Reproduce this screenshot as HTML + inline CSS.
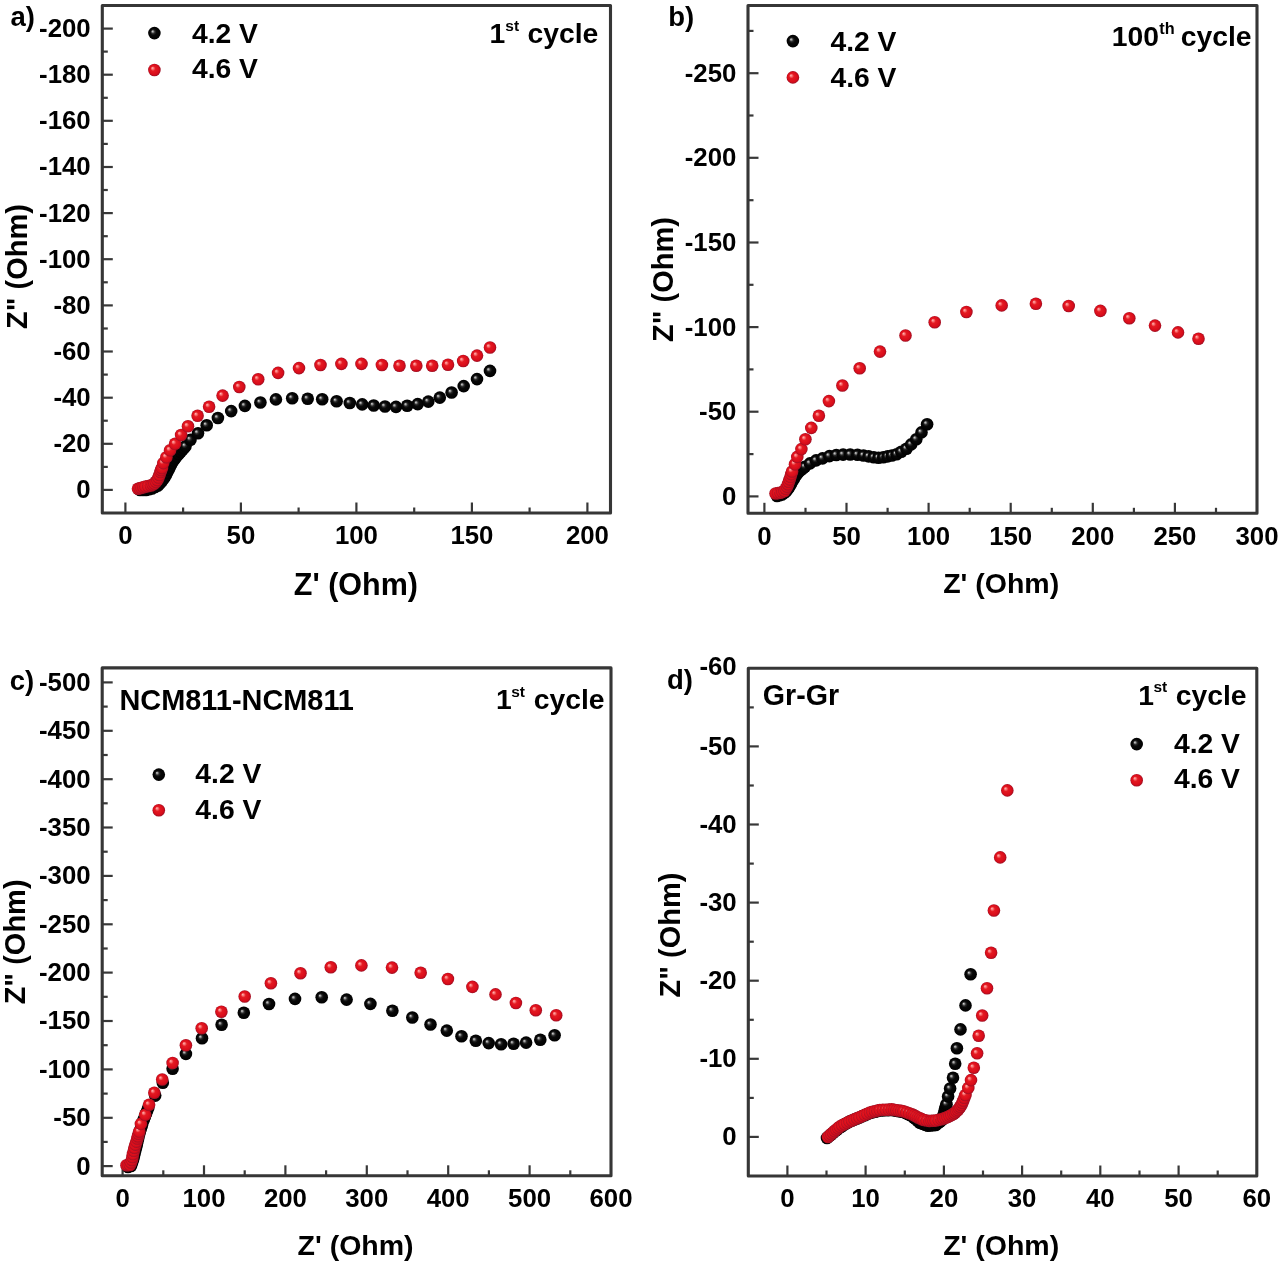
<!DOCTYPE html>
<html><head><meta charset="utf-8"><style>
html,body{margin:0;padding:0;background:#fff;}
svg{display:block;filter:blur(0.45px);}
text{font-family:"Liberation Sans", sans-serif;font-weight:bold;fill:#000;}
</style></head><body>
<svg width="1280" height="1265" viewBox="0 0 1280 1265">
<defs>
<radialGradient id="gr" cx="0.5" cy="0.5" r="0.5" fx="0.33" fy="0.33">
<stop offset="0" stop-color="#ffbcb8"/><stop offset="0.16" stop-color="#fa7a7a"/><stop offset="0.38" stop-color="#e41a22"/><stop offset="0.8" stop-color="#d80c1a"/><stop offset="1" stop-color="#9c1024"/>
</radialGradient>
<radialGradient id="gb" cx="0.5" cy="0.5" r="0.5" fx="0.34" fy="0.35">
<stop offset="0" stop-color="#d4d4d4"/><stop offset="0.1" stop-color="#a8a8a8"/><stop offset="0.3" stop-color="#2a2a2a"/><stop offset="0.5" stop-color="#080808"/><stop offset="1" stop-color="#000"/>
</radialGradient>
</defs>
<rect width="1280" height="1265" fill="#fff"/>
<line x1="125.4" y1="513.0" x2="125.4" y2="502.5" stroke="#383838" stroke-width="2.2"/>
<line x1="240.9" y1="513.0" x2="240.9" y2="502.5" stroke="#383838" stroke-width="2.2"/>
<line x1="356.4" y1="513.0" x2="356.4" y2="502.5" stroke="#383838" stroke-width="2.2"/>
<line x1="471.9" y1="513.0" x2="471.9" y2="502.5" stroke="#383838" stroke-width="2.2"/>
<line x1="587.4" y1="513.0" x2="587.4" y2="502.5" stroke="#383838" stroke-width="2.2"/>
<line x1="183.1" y1="513.0" x2="183.1" y2="507.5" stroke="#383838" stroke-width="2.2"/>
<line x1="298.6" y1="513.0" x2="298.6" y2="507.5" stroke="#383838" stroke-width="2.2"/>
<line x1="414.2" y1="513.0" x2="414.2" y2="507.5" stroke="#383838" stroke-width="2.2"/>
<line x1="529.6" y1="513.0" x2="529.6" y2="507.5" stroke="#383838" stroke-width="2.2"/>
<line x1="102.3" y1="489.9" x2="112.8" y2="489.9" stroke="#383838" stroke-width="2.2"/>
<line x1="102.3" y1="443.8" x2="112.8" y2="443.8" stroke="#383838" stroke-width="2.2"/>
<line x1="102.3" y1="397.7" x2="112.8" y2="397.7" stroke="#383838" stroke-width="2.2"/>
<line x1="102.3" y1="351.5" x2="112.8" y2="351.5" stroke="#383838" stroke-width="2.2"/>
<line x1="102.3" y1="305.4" x2="112.8" y2="305.4" stroke="#383838" stroke-width="2.2"/>
<line x1="102.3" y1="259.2" x2="112.8" y2="259.2" stroke="#383838" stroke-width="2.2"/>
<line x1="102.3" y1="213.1" x2="112.8" y2="213.1" stroke="#383838" stroke-width="2.2"/>
<line x1="102.3" y1="167.0" x2="112.8" y2="167.0" stroke="#383838" stroke-width="2.2"/>
<line x1="102.3" y1="120.8" x2="112.8" y2="120.8" stroke="#383838" stroke-width="2.2"/>
<line x1="102.3" y1="74.7" x2="112.8" y2="74.7" stroke="#383838" stroke-width="2.2"/>
<line x1="102.3" y1="28.6" x2="112.8" y2="28.6" stroke="#383838" stroke-width="2.2"/>
<line x1="102.3" y1="466.9" x2="107.8" y2="466.9" stroke="#383838" stroke-width="2.2"/>
<line x1="102.3" y1="420.7" x2="107.8" y2="420.7" stroke="#383838" stroke-width="2.2"/>
<line x1="102.3" y1="374.6" x2="107.8" y2="374.6" stroke="#383838" stroke-width="2.2"/>
<line x1="102.3" y1="328.5" x2="107.8" y2="328.5" stroke="#383838" stroke-width="2.2"/>
<line x1="102.3" y1="282.3" x2="107.8" y2="282.3" stroke="#383838" stroke-width="2.2"/>
<line x1="102.3" y1="236.2" x2="107.8" y2="236.2" stroke="#383838" stroke-width="2.2"/>
<line x1="102.3" y1="190.0" x2="107.8" y2="190.0" stroke="#383838" stroke-width="2.2"/>
<line x1="102.3" y1="143.9" x2="107.8" y2="143.9" stroke="#383838" stroke-width="2.2"/>
<line x1="102.3" y1="97.8" x2="107.8" y2="97.8" stroke="#383838" stroke-width="2.2"/>
<line x1="102.3" y1="51.6" x2="107.8" y2="51.6" stroke="#383838" stroke-width="2.2"/>
<rect x="102.3" y="5.5" width="508.2" height="507.5" fill="none" stroke="#363636" stroke-width="3.1" stroke-linejoin="round"/>
<text x="125.4" y="544.3" font-size="25.8" text-anchor="middle" >0</text>
<text x="240.9" y="544.3" font-size="25.8" text-anchor="middle" >50</text>
<text x="356.4" y="544.3" font-size="25.8" text-anchor="middle" >100</text>
<text x="471.9" y="544.3" font-size="25.8" text-anchor="middle" >150</text>
<text x="587.4" y="544.3" font-size="25.8" text-anchor="middle" >200</text>
<text x="90.7" y="498.3" font-size="25.8" text-anchor="end" >0</text>
<text x="90.7" y="452.2" font-size="25.8" text-anchor="end" >-20</text>
<text x="90.7" y="406.1" font-size="25.8" text-anchor="end" >-40</text>
<text x="90.7" y="359.9" font-size="25.8" text-anchor="end" >-60</text>
<text x="90.7" y="313.8" font-size="25.8" text-anchor="end" >-80</text>
<text x="90.7" y="267.6" font-size="25.8" text-anchor="end" >-100</text>
<text x="90.7" y="221.5" font-size="25.8" text-anchor="end" >-120</text>
<text x="90.7" y="175.4" font-size="25.8" text-anchor="end" >-140</text>
<text x="90.7" y="129.2" font-size="25.8" text-anchor="end" >-160</text>
<text x="90.7" y="83.1" font-size="25.8" text-anchor="end" >-180</text>
<text x="90.7" y="37.0" font-size="25.8" text-anchor="end" >-200</text>
<line x1="764.4" y1="513.3" x2="764.4" y2="502.8" stroke="#383838" stroke-width="2.2"/>
<line x1="846.5" y1="513.3" x2="846.5" y2="502.8" stroke="#383838" stroke-width="2.2"/>
<line x1="928.6" y1="513.3" x2="928.6" y2="502.8" stroke="#383838" stroke-width="2.2"/>
<line x1="1010.7" y1="513.3" x2="1010.7" y2="502.8" stroke="#383838" stroke-width="2.2"/>
<line x1="1092.8" y1="513.3" x2="1092.8" y2="502.8" stroke="#383838" stroke-width="2.2"/>
<line x1="1174.9" y1="513.3" x2="1174.9" y2="502.8" stroke="#383838" stroke-width="2.2"/>
<line x1="805.5" y1="513.3" x2="805.5" y2="507.8" stroke="#383838" stroke-width="2.2"/>
<line x1="887.6" y1="513.3" x2="887.6" y2="507.8" stroke="#383838" stroke-width="2.2"/>
<line x1="969.7" y1="513.3" x2="969.7" y2="507.8" stroke="#383838" stroke-width="2.2"/>
<line x1="1051.8" y1="513.3" x2="1051.8" y2="507.8" stroke="#383838" stroke-width="2.2"/>
<line x1="1133.9" y1="513.3" x2="1133.9" y2="507.8" stroke="#383838" stroke-width="2.2"/>
<line x1="1216.0" y1="513.3" x2="1216.0" y2="507.8" stroke="#383838" stroke-width="2.2"/>
<line x1="748.0" y1="496.4" x2="758.5" y2="496.4" stroke="#383838" stroke-width="2.2"/>
<line x1="748.0" y1="411.7" x2="758.5" y2="411.7" stroke="#383838" stroke-width="2.2"/>
<line x1="748.0" y1="327.1" x2="758.5" y2="327.1" stroke="#383838" stroke-width="2.2"/>
<line x1="748.0" y1="242.5" x2="758.5" y2="242.5" stroke="#383838" stroke-width="2.2"/>
<line x1="748.0" y1="157.8" x2="758.5" y2="157.8" stroke="#383838" stroke-width="2.2"/>
<line x1="748.0" y1="73.2" x2="758.5" y2="73.2" stroke="#383838" stroke-width="2.2"/>
<line x1="748.0" y1="454.1" x2="753.5" y2="454.1" stroke="#383838" stroke-width="2.2"/>
<line x1="748.0" y1="369.4" x2="753.5" y2="369.4" stroke="#383838" stroke-width="2.2"/>
<line x1="748.0" y1="284.8" x2="753.5" y2="284.8" stroke="#383838" stroke-width="2.2"/>
<line x1="748.0" y1="200.2" x2="753.5" y2="200.2" stroke="#383838" stroke-width="2.2"/>
<line x1="748.0" y1="115.5" x2="753.5" y2="115.5" stroke="#383838" stroke-width="2.2"/>
<line x1="748.0" y1="30.9" x2="753.5" y2="30.9" stroke="#383838" stroke-width="2.2"/>
<rect x="748.0" y="5.5" width="509.0" height="507.8" fill="none" stroke="#363636" stroke-width="3.1" stroke-linejoin="round"/>
<text x="764.4" y="544.6" font-size="25.8" text-anchor="middle" >0</text>
<text x="846.5" y="544.6" font-size="25.8" text-anchor="middle" >50</text>
<text x="928.6" y="544.6" font-size="25.8" text-anchor="middle" >100</text>
<text x="1010.7" y="544.6" font-size="25.8" text-anchor="middle" >150</text>
<text x="1092.8" y="544.6" font-size="25.8" text-anchor="middle" >200</text>
<text x="1174.9" y="544.6" font-size="25.8" text-anchor="middle" >250</text>
<text x="1257.0" y="544.6" font-size="25.8" text-anchor="middle" >300</text>
<text x="736.4" y="504.8" font-size="25.8" text-anchor="end" >0</text>
<text x="736.4" y="420.1" font-size="25.8" text-anchor="end" >-50</text>
<text x="736.4" y="335.5" font-size="25.8" text-anchor="end" >-100</text>
<text x="736.4" y="250.9" font-size="25.8" text-anchor="end" >-150</text>
<text x="736.4" y="166.2" font-size="25.8" text-anchor="end" >-200</text>
<text x="736.4" y="81.6" font-size="25.8" text-anchor="end" >-250</text>
<line x1="122.6" y1="1175.8" x2="122.6" y2="1165.3" stroke="#383838" stroke-width="2.2"/>
<line x1="204.0" y1="1175.8" x2="204.0" y2="1165.3" stroke="#383838" stroke-width="2.2"/>
<line x1="285.4" y1="1175.8" x2="285.4" y2="1165.3" stroke="#383838" stroke-width="2.2"/>
<line x1="366.8" y1="1175.8" x2="366.8" y2="1165.3" stroke="#383838" stroke-width="2.2"/>
<line x1="448.2" y1="1175.8" x2="448.2" y2="1165.3" stroke="#383838" stroke-width="2.2"/>
<line x1="529.6" y1="1175.8" x2="529.6" y2="1165.3" stroke="#383838" stroke-width="2.2"/>
<line x1="163.3" y1="1175.8" x2="163.3" y2="1170.3" stroke="#383838" stroke-width="2.2"/>
<line x1="244.7" y1="1175.8" x2="244.7" y2="1170.3" stroke="#383838" stroke-width="2.2"/>
<line x1="326.1" y1="1175.8" x2="326.1" y2="1170.3" stroke="#383838" stroke-width="2.2"/>
<line x1="407.5" y1="1175.8" x2="407.5" y2="1170.3" stroke="#383838" stroke-width="2.2"/>
<line x1="488.9" y1="1175.8" x2="488.9" y2="1170.3" stroke="#383838" stroke-width="2.2"/>
<line x1="570.3" y1="1175.8" x2="570.3" y2="1170.3" stroke="#383838" stroke-width="2.2"/>
<line x1="102.2" y1="1166.1" x2="112.7" y2="1166.1" stroke="#383838" stroke-width="2.2"/>
<line x1="102.2" y1="1117.8" x2="112.7" y2="1117.8" stroke="#383838" stroke-width="2.2"/>
<line x1="102.2" y1="1069.4" x2="112.7" y2="1069.4" stroke="#383838" stroke-width="2.2"/>
<line x1="102.2" y1="1021.0" x2="112.7" y2="1021.0" stroke="#383838" stroke-width="2.2"/>
<line x1="102.2" y1="972.6" x2="112.7" y2="972.6" stroke="#383838" stroke-width="2.2"/>
<line x1="102.2" y1="924.3" x2="112.7" y2="924.3" stroke="#383838" stroke-width="2.2"/>
<line x1="102.2" y1="875.9" x2="112.7" y2="875.9" stroke="#383838" stroke-width="2.2"/>
<line x1="102.2" y1="827.5" x2="112.7" y2="827.5" stroke="#383838" stroke-width="2.2"/>
<line x1="102.2" y1="779.2" x2="112.7" y2="779.2" stroke="#383838" stroke-width="2.2"/>
<line x1="102.2" y1="730.8" x2="112.7" y2="730.8" stroke="#383838" stroke-width="2.2"/>
<line x1="102.2" y1="682.4" x2="112.7" y2="682.4" stroke="#383838" stroke-width="2.2"/>
<line x1="102.2" y1="1141.9" x2="107.7" y2="1141.9" stroke="#383838" stroke-width="2.2"/>
<line x1="102.2" y1="1093.6" x2="107.7" y2="1093.6" stroke="#383838" stroke-width="2.2"/>
<line x1="102.2" y1="1045.2" x2="107.7" y2="1045.2" stroke="#383838" stroke-width="2.2"/>
<line x1="102.2" y1="996.8" x2="107.7" y2="996.8" stroke="#383838" stroke-width="2.2"/>
<line x1="102.2" y1="948.5" x2="107.7" y2="948.5" stroke="#383838" stroke-width="2.2"/>
<line x1="102.2" y1="900.1" x2="107.7" y2="900.1" stroke="#383838" stroke-width="2.2"/>
<line x1="102.2" y1="851.7" x2="107.7" y2="851.7" stroke="#383838" stroke-width="2.2"/>
<line x1="102.2" y1="803.3" x2="107.7" y2="803.3" stroke="#383838" stroke-width="2.2"/>
<line x1="102.2" y1="755.0" x2="107.7" y2="755.0" stroke="#383838" stroke-width="2.2"/>
<line x1="102.2" y1="706.6" x2="107.7" y2="706.6" stroke="#383838" stroke-width="2.2"/>
<rect x="102.2" y="667.9" width="508.8" height="507.9" fill="none" stroke="#363636" stroke-width="3.1" stroke-linejoin="round"/>
<text x="122.6" y="1207.1" font-size="25.8" text-anchor="middle" >0</text>
<text x="204.0" y="1207.1" font-size="25.8" text-anchor="middle" >100</text>
<text x="285.4" y="1207.1" font-size="25.8" text-anchor="middle" >200</text>
<text x="366.8" y="1207.1" font-size="25.8" text-anchor="middle" >300</text>
<text x="448.2" y="1207.1" font-size="25.8" text-anchor="middle" >400</text>
<text x="529.6" y="1207.1" font-size="25.8" text-anchor="middle" >500</text>
<text x="611.0" y="1207.1" font-size="25.8" text-anchor="middle" >600</text>
<text x="90.6" y="1174.5" font-size="25.8" text-anchor="end" >0</text>
<text x="90.6" y="1126.2" font-size="25.8" text-anchor="end" >-50</text>
<text x="90.6" y="1077.8" font-size="25.8" text-anchor="end" >-100</text>
<text x="90.6" y="1029.4" font-size="25.8" text-anchor="end" >-150</text>
<text x="90.6" y="981.0" font-size="25.8" text-anchor="end" >-200</text>
<text x="90.6" y="932.7" font-size="25.8" text-anchor="end" >-250</text>
<text x="90.6" y="884.3" font-size="25.8" text-anchor="end" >-300</text>
<text x="90.6" y="835.9" font-size="25.8" text-anchor="end" >-350</text>
<text x="90.6" y="787.6" font-size="25.8" text-anchor="end" >-400</text>
<text x="90.6" y="739.2" font-size="25.8" text-anchor="end" >-450</text>
<text x="90.6" y="690.8" font-size="25.8" text-anchor="end" >-500</text>
<line x1="787.4" y1="1176.0" x2="787.4" y2="1165.5" stroke="#383838" stroke-width="2.2"/>
<line x1="865.6" y1="1176.0" x2="865.6" y2="1165.5" stroke="#383838" stroke-width="2.2"/>
<line x1="943.9" y1="1176.0" x2="943.9" y2="1165.5" stroke="#383838" stroke-width="2.2"/>
<line x1="1022.1" y1="1176.0" x2="1022.1" y2="1165.5" stroke="#383838" stroke-width="2.2"/>
<line x1="1100.3" y1="1176.0" x2="1100.3" y2="1165.5" stroke="#383838" stroke-width="2.2"/>
<line x1="1178.6" y1="1176.0" x2="1178.6" y2="1165.5" stroke="#383838" stroke-width="2.2"/>
<line x1="826.5" y1="1176.0" x2="826.5" y2="1170.5" stroke="#383838" stroke-width="2.2"/>
<line x1="904.8" y1="1176.0" x2="904.8" y2="1170.5" stroke="#383838" stroke-width="2.2"/>
<line x1="983.0" y1="1176.0" x2="983.0" y2="1170.5" stroke="#383838" stroke-width="2.2"/>
<line x1="1061.2" y1="1176.0" x2="1061.2" y2="1170.5" stroke="#383838" stroke-width="2.2"/>
<line x1="1139.5" y1="1176.0" x2="1139.5" y2="1170.5" stroke="#383838" stroke-width="2.2"/>
<line x1="1217.7" y1="1176.0" x2="1217.7" y2="1170.5" stroke="#383838" stroke-width="2.2"/>
<line x1="748.3" y1="1136.9" x2="758.8" y2="1136.9" stroke="#383838" stroke-width="2.2"/>
<line x1="748.3" y1="1058.8" x2="758.8" y2="1058.8" stroke="#383838" stroke-width="2.2"/>
<line x1="748.3" y1="980.7" x2="758.8" y2="980.7" stroke="#383838" stroke-width="2.2"/>
<line x1="748.3" y1="902.6" x2="758.8" y2="902.6" stroke="#383838" stroke-width="2.2"/>
<line x1="748.3" y1="824.5" x2="758.8" y2="824.5" stroke="#383838" stroke-width="2.2"/>
<line x1="748.3" y1="746.4" x2="758.8" y2="746.4" stroke="#383838" stroke-width="2.2"/>
<line x1="748.3" y1="1097.9" x2="753.8" y2="1097.9" stroke="#383838" stroke-width="2.2"/>
<line x1="748.3" y1="1019.8" x2="753.8" y2="1019.8" stroke="#383838" stroke-width="2.2"/>
<line x1="748.3" y1="941.7" x2="753.8" y2="941.7" stroke="#383838" stroke-width="2.2"/>
<line x1="748.3" y1="863.6" x2="753.8" y2="863.6" stroke="#383838" stroke-width="2.2"/>
<line x1="748.3" y1="785.5" x2="753.8" y2="785.5" stroke="#383838" stroke-width="2.2"/>
<line x1="748.3" y1="707.4" x2="753.8" y2="707.4" stroke="#383838" stroke-width="2.2"/>
<rect x="748.3" y="668.3" width="508.5" height="507.7" fill="none" stroke="#363636" stroke-width="3.1" stroke-linejoin="round"/>
<text x="787.4" y="1207.3" font-size="25.8" text-anchor="middle" >0</text>
<text x="865.6" y="1207.3" font-size="25.8" text-anchor="middle" >10</text>
<text x="943.9" y="1207.3" font-size="25.8" text-anchor="middle" >20</text>
<text x="1022.1" y="1207.3" font-size="25.8" text-anchor="middle" >30</text>
<text x="1100.3" y="1207.3" font-size="25.8" text-anchor="middle" >40</text>
<text x="1178.6" y="1207.3" font-size="25.8" text-anchor="middle" >50</text>
<text x="1256.8" y="1207.3" font-size="25.8" text-anchor="middle" >60</text>
<text x="736.7" y="1145.3" font-size="25.8" text-anchor="end" >0</text>
<text x="736.7" y="1067.2" font-size="25.8" text-anchor="end" >-10</text>
<text x="736.7" y="989.1" font-size="25.8" text-anchor="end" >-20</text>
<text x="736.7" y="911.0" font-size="25.8" text-anchor="end" >-30</text>
<text x="736.7" y="832.9" font-size="25.8" text-anchor="end" >-40</text>
<text x="736.7" y="754.8" font-size="25.8" text-anchor="end" >-50</text>
<text x="736.7" y="675.4" font-size="25.8" text-anchor="end" >-60</text>
<text x="355.9" y="595.0" font-size="30.5" text-anchor="middle" >Z' (Ohm)</text>
<text x="1001.2" y="592.5" font-size="28.5" text-anchor="middle" >Z' (Ohm)</text>
<text x="355.6" y="1255.0" font-size="28.5" text-anchor="middle" >Z' (Ohm)</text>
<text x="1001.2" y="1255.0" font-size="28.5" text-anchor="middle" >Z' (Ohm)</text>
<text x="0" y="0" font-size="29" text-anchor="middle" transform="translate(26.5,266.6) rotate(-90)">Z" (Ohm)</text>
<text x="0" y="0" font-size="29" text-anchor="middle" transform="translate(673.3,279.5) rotate(-90)">Z" (Ohm)</text>
<text x="0" y="0" font-size="29" text-anchor="middle" transform="translate(25.3,941.9) rotate(-90)">Z" (Ohm)</text>
<text x="0" y="0" font-size="29" text-anchor="middle" transform="translate(679.6,935.1) rotate(-90)">Z" (Ohm)</text>
<text x="10.5" y="25.8" font-size="27.5" text-anchor="start" >a)</text>
<text x="668.3" y="26.3" font-size="27.5" text-anchor="start" >b)</text>
<text x="9.8" y="690.0" font-size="27.5" text-anchor="start" >c)</text>
<text x="667.0" y="689.0" font-size="27.5" text-anchor="start" >d)</text>
<circle cx="154.4" cy="33.1" r="6.3" fill="url(#gb)"/>
<circle cx="154.4" cy="70.0" r="6.3" fill="url(#gr)"/>
<text x="191.9" y="42.5" font-size="28.3" text-anchor="start" >4.2 V</text>
<text x="191.9" y="78.0" font-size="28.3" text-anchor="start" >4.6 V</text>
<circle cx="792.9" cy="41.1" r="6.3" fill="url(#gb)"/>
<circle cx="792.9" cy="77.4" r="6.3" fill="url(#gr)"/>
<text x="830.4" y="51.1" font-size="28.3" text-anchor="start" >4.2 V</text>
<text x="830.4" y="86.8" font-size="28.3" text-anchor="start" >4.6 V</text>
<circle cx="158.8" cy="774.6" r="6.3" fill="url(#gb)"/>
<circle cx="158.8" cy="810.2" r="6.3" fill="url(#gr)"/>
<text x="195.3" y="782.7" font-size="28.3" text-anchor="start" >4.2 V</text>
<text x="195.3" y="819.3" font-size="28.3" text-anchor="start" >4.6 V</text>
<circle cx="1136.7" cy="744.1" r="6.3" fill="url(#gb)"/>
<circle cx="1136.7" cy="780.2" r="6.3" fill="url(#gr)"/>
<text x="1173.9" y="752.6" font-size="28.3" text-anchor="start" >4.2 V</text>
<text x="1173.9" y="788.4" font-size="28.3" text-anchor="start" >4.6 V</text>
<text x="489.5" y="43.4" font-size="28.3" text-anchor="start" >1</text>
<text x="505.3" y="30.8" font-size="15.5" text-anchor="start" >st</text>
<text x="527.5" y="43.4" font-size="28.3" text-anchor="start" >cycle</text>
<text x="1111.7" y="46.4" font-size="28.3" text-anchor="start" >100</text>
<text x="1159.3" y="33.8" font-size="16.3" text-anchor="start" >th</text>
<text x="1180.7" y="46.4" font-size="28.3" text-anchor="start" >cycle</text>
<text x="496.0" y="709.4" font-size="28.3" text-anchor="start" >1</text>
<text x="511.2" y="697.0" font-size="15.5" text-anchor="start" >st</text>
<text x="533.7" y="709.4" font-size="28.3" text-anchor="start" >cycle</text>
<text x="1138.3" y="704.6" font-size="28.3" text-anchor="start" >1</text>
<text x="1153.5" y="691.9" font-size="15.5" text-anchor="start" >st</text>
<text x="1175.7" y="704.6" font-size="28.3" text-anchor="start" >cycle</text>
<text x="119.5" y="709.6" font-size="28.9" text-anchor="start" >NCM811-NCM811</text>
<text x="762.8" y="704.8" font-size="28.6" text-anchor="start" >Gr-Gr</text>
<circle cx="140.0" cy="490.0" r="6.3" fill="url(#gb)"/>
<circle cx="143.0" cy="490.0" r="6.3" fill="url(#gb)"/>
<circle cx="146.0" cy="490.0" r="6.3" fill="url(#gb)"/>
<circle cx="149.0" cy="489.2" r="6.3" fill="url(#gb)"/>
<circle cx="152.0" cy="488.5" r="6.3" fill="url(#gb)"/>
<circle cx="155.0" cy="487.0" r="6.3" fill="url(#gb)"/>
<circle cx="158.0" cy="485.5" r="6.3" fill="url(#gb)"/>
<circle cx="160.0" cy="483.2" r="6.3" fill="url(#gb)"/>
<circle cx="162.0" cy="481.0" r="6.3" fill="url(#gb)"/>
<circle cx="163.8" cy="478.5" r="6.3" fill="url(#gb)"/>
<circle cx="165.5" cy="476.0" r="6.3" fill="url(#gb)"/>
<circle cx="167.0" cy="473.0" r="6.3" fill="url(#gb)"/>
<circle cx="168.5" cy="470.0" r="6.3" fill="url(#gb)"/>
<circle cx="169.5" cy="467.8" r="6.3" fill="url(#gb)"/>
<circle cx="170.5" cy="465.5" r="6.3" fill="url(#gb)"/>
<circle cx="172.0" cy="463.0" r="6.3" fill="url(#gb)"/>
<circle cx="173.5" cy="460.5" r="6.3" fill="url(#gb)"/>
<circle cx="175.0" cy="458.5" r="6.3" fill="url(#gb)"/>
<circle cx="176.5" cy="456.5" r="6.3" fill="url(#gb)"/>
<circle cx="178.5" cy="454.2" r="6.3" fill="url(#gb)"/>
<circle cx="180.5" cy="452.0" r="6.3" fill="url(#gb)"/>
<circle cx="182.2" cy="450.1" r="6.3" fill="url(#gb)"/>
<circle cx="183.8" cy="448.2" r="6.3" fill="url(#gb)"/>
<circle cx="185.5" cy="446.3" r="6.3" fill="url(#gb)"/>
<circle cx="190.5" cy="439.7" r="6.3" fill="url(#gb)"/>
<circle cx="198.0" cy="433.2" r="6.3" fill="url(#gb)"/>
<circle cx="206.7" cy="425.3" r="6.3" fill="url(#gb)"/>
<circle cx="217.9" cy="418.0" r="6.3" fill="url(#gb)"/>
<circle cx="231.2" cy="411.1" r="6.3" fill="url(#gb)"/>
<circle cx="244.9" cy="405.9" r="6.3" fill="url(#gb)"/>
<circle cx="260.4" cy="402.5" r="6.3" fill="url(#gb)"/>
<circle cx="275.9" cy="399.4" r="6.3" fill="url(#gb)"/>
<circle cx="292.2" cy="398.2" r="6.3" fill="url(#gb)"/>
<circle cx="307.7" cy="398.7" r="6.3" fill="url(#gb)"/>
<circle cx="322.2" cy="399.3" r="6.3" fill="url(#gb)"/>
<circle cx="336.6" cy="401.3" r="6.3" fill="url(#gb)"/>
<circle cx="349.8" cy="403.0" r="6.3" fill="url(#gb)"/>
<circle cx="362.2" cy="404.4" r="6.3" fill="url(#gb)"/>
<circle cx="373.7" cy="405.5" r="6.3" fill="url(#gb)"/>
<circle cx="385.0" cy="406.5" r="6.3" fill="url(#gb)"/>
<circle cx="396.0" cy="406.9" r="6.3" fill="url(#gb)"/>
<circle cx="407.2" cy="405.8" r="6.3" fill="url(#gb)"/>
<circle cx="417.7" cy="404.1" r="6.3" fill="url(#gb)"/>
<circle cx="428.3" cy="401.6" r="6.3" fill="url(#gb)"/>
<circle cx="439.8" cy="397.6" r="6.3" fill="url(#gb)"/>
<circle cx="451.6" cy="392.5" r="6.3" fill="url(#gb)"/>
<circle cx="463.7" cy="386.1" r="6.3" fill="url(#gb)"/>
<circle cx="477.0" cy="379.1" r="6.3" fill="url(#gb)"/>
<circle cx="490.0" cy="370.9" r="6.3" fill="url(#gb)"/>
<circle cx="138.0" cy="488.8" r="6.3" fill="url(#gr)"/>
<circle cx="139.8" cy="488.3" r="6.3" fill="url(#gr)"/>
<circle cx="141.5" cy="487.8" r="6.3" fill="url(#gr)"/>
<circle cx="143.5" cy="487.2" r="6.3" fill="url(#gr)"/>
<circle cx="145.5" cy="486.6" r="6.3" fill="url(#gr)"/>
<circle cx="148.2" cy="486.1" r="6.3" fill="url(#gr)"/>
<circle cx="151.0" cy="485.5" r="6.3" fill="url(#gr)"/>
<circle cx="152.8" cy="484.5" r="6.3" fill="url(#gr)"/>
<circle cx="154.5" cy="483.5" r="6.3" fill="url(#gr)"/>
<circle cx="156.0" cy="481.8" r="6.3" fill="url(#gr)"/>
<circle cx="157.5" cy="480.0" r="6.3" fill="url(#gr)"/>
<circle cx="158.5" cy="477.5" r="6.3" fill="url(#gr)"/>
<circle cx="159.5" cy="475.0" r="6.3" fill="url(#gr)"/>
<circle cx="160.5" cy="472.0" r="6.3" fill="url(#gr)"/>
<circle cx="161.2" cy="470.0" r="6.3" fill="url(#gr)"/>
<circle cx="162.0" cy="468.0" r="6.3" fill="url(#gr)"/>
<circle cx="163.3" cy="463.1" r="6.3" fill="url(#gr)"/>
<circle cx="166.4" cy="457.2" r="6.3" fill="url(#gr)"/>
<circle cx="170.1" cy="450.3" r="6.3" fill="url(#gr)"/>
<circle cx="175.1" cy="443.8" r="6.3" fill="url(#gr)"/>
<circle cx="181.1" cy="435.0" r="6.3" fill="url(#gr)"/>
<circle cx="188.0" cy="426.3" r="6.3" fill="url(#gr)"/>
<circle cx="197.6" cy="415.8" r="6.3" fill="url(#gr)"/>
<circle cx="209.1" cy="406.7" r="6.3" fill="url(#gr)"/>
<circle cx="222.6" cy="395.6" r="6.3" fill="url(#gr)"/>
<circle cx="239.3" cy="387.0" r="6.3" fill="url(#gr)"/>
<circle cx="258.2" cy="379.3" r="6.3" fill="url(#gr)"/>
<circle cx="278.1" cy="372.9" r="6.3" fill="url(#gr)"/>
<circle cx="299.0" cy="368.1" r="6.3" fill="url(#gr)"/>
<circle cx="320.5" cy="365.0" r="6.3" fill="url(#gr)"/>
<circle cx="341.4" cy="363.9" r="6.3" fill="url(#gr)"/>
<circle cx="361.5" cy="363.9" r="6.3" fill="url(#gr)"/>
<circle cx="381.9" cy="365.0" r="6.3" fill="url(#gr)"/>
<circle cx="399.5" cy="365.7" r="6.3" fill="url(#gr)"/>
<circle cx="416.3" cy="365.7" r="6.3" fill="url(#gr)"/>
<circle cx="432.2" cy="365.7" r="6.3" fill="url(#gr)"/>
<circle cx="448.0" cy="364.7" r="6.3" fill="url(#gr)"/>
<circle cx="463.2" cy="361.0" r="6.3" fill="url(#gr)"/>
<circle cx="477.0" cy="355.6" r="6.3" fill="url(#gr)"/>
<circle cx="490.0" cy="347.5" r="6.3" fill="url(#gr)"/>
<circle cx="777.0" cy="496.0" r="6.3" fill="url(#gb)"/>
<circle cx="779.5" cy="495.2" r="6.3" fill="url(#gb)"/>
<circle cx="782.0" cy="494.5" r="6.3" fill="url(#gb)"/>
<circle cx="784.0" cy="493.0" r="6.3" fill="url(#gb)"/>
<circle cx="786.0" cy="491.5" r="6.3" fill="url(#gb)"/>
<circle cx="787.6" cy="489.2" r="6.3" fill="url(#gb)"/>
<circle cx="789.3" cy="487.0" r="6.3" fill="url(#gb)"/>
<circle cx="790.6" cy="484.5" r="6.3" fill="url(#gb)"/>
<circle cx="792.0" cy="482.0" r="6.3" fill="url(#gb)"/>
<circle cx="793.5" cy="479.5" r="6.3" fill="url(#gb)"/>
<circle cx="794.9" cy="477.0" r="6.3" fill="url(#gb)"/>
<circle cx="796.7" cy="474.5" r="6.3" fill="url(#gb)"/>
<circle cx="798.5" cy="472.0" r="6.3" fill="url(#gb)"/>
<circle cx="800.6" cy="470.3" r="6.3" fill="url(#gb)"/>
<circle cx="802.8" cy="468.5" r="6.3" fill="url(#gb)"/>
<circle cx="804.9" cy="466.8" r="6.3" fill="url(#gb)"/>
<circle cx="810.0" cy="463.4" r="6.3" fill="url(#gb)"/>
<circle cx="816.1" cy="460.4" r="6.3" fill="url(#gb)"/>
<circle cx="822.5" cy="458.4" r="6.3" fill="url(#gb)"/>
<circle cx="829.4" cy="456.1" r="6.3" fill="url(#gb)"/>
<circle cx="836.3" cy="455.0" r="6.3" fill="url(#gb)"/>
<circle cx="843.1" cy="454.6" r="6.3" fill="url(#gb)"/>
<circle cx="850.2" cy="454.5" r="6.3" fill="url(#gb)"/>
<circle cx="857.5" cy="454.7" r="6.3" fill="url(#gb)"/>
<circle cx="863.5" cy="455.5" r="6.3" fill="url(#gb)"/>
<circle cx="868.7" cy="456.4" r="6.3" fill="url(#gb)"/>
<circle cx="873.8" cy="457.3" r="6.3" fill="url(#gb)"/>
<circle cx="878.5" cy="457.7" r="6.3" fill="url(#gb)"/>
<circle cx="883.3" cy="457.3" r="6.3" fill="url(#gb)"/>
<circle cx="887.6" cy="456.4" r="6.3" fill="url(#gb)"/>
<circle cx="891.9" cy="455.5" r="6.3" fill="url(#gb)"/>
<circle cx="896.6" cy="454.3" r="6.3" fill="url(#gb)"/>
<circle cx="901.3" cy="451.7" r="6.3" fill="url(#gb)"/>
<circle cx="906.5" cy="448.7" r="6.3" fill="url(#gb)"/>
<circle cx="911.2" cy="444.4" r="6.3" fill="url(#gb)"/>
<circle cx="916.3" cy="439.2" r="6.3" fill="url(#gb)"/>
<circle cx="921.5" cy="432.4" r="6.3" fill="url(#gb)"/>
<circle cx="927.1" cy="424.2" r="6.3" fill="url(#gb)"/>
<circle cx="775.5" cy="493.5" r="6.3" fill="url(#gr)"/>
<circle cx="778.0" cy="493.1" r="6.3" fill="url(#gr)"/>
<circle cx="780.5" cy="492.8" r="6.3" fill="url(#gr)"/>
<circle cx="782.5" cy="491.9" r="6.3" fill="url(#gr)"/>
<circle cx="784.5" cy="491.0" r="6.3" fill="url(#gr)"/>
<circle cx="785.8" cy="488.8" r="6.3" fill="url(#gr)"/>
<circle cx="787.1" cy="486.6" r="6.3" fill="url(#gr)"/>
<circle cx="788.0" cy="484.2" r="6.3" fill="url(#gr)"/>
<circle cx="788.8" cy="481.8" r="6.3" fill="url(#gr)"/>
<circle cx="789.7" cy="479.4" r="6.3" fill="url(#gr)"/>
<circle cx="790.5" cy="476.8" r="6.3" fill="url(#gr)"/>
<circle cx="791.3" cy="474.1" r="6.3" fill="url(#gr)"/>
<circle cx="792.1" cy="471.5" r="6.3" fill="url(#gr)"/>
<circle cx="795.0" cy="464.2" r="6.3" fill="url(#gr)"/>
<circle cx="797.3" cy="456.9" r="6.3" fill="url(#gr)"/>
<circle cx="801.4" cy="449.1" r="6.3" fill="url(#gr)"/>
<circle cx="805.4" cy="439.3" r="6.3" fill="url(#gr)"/>
<circle cx="811.3" cy="427.9" r="6.3" fill="url(#gr)"/>
<circle cx="818.9" cy="415.8" r="6.3" fill="url(#gr)"/>
<circle cx="828.9" cy="401.1" r="6.3" fill="url(#gr)"/>
<circle cx="842.4" cy="385.5" r="6.3" fill="url(#gr)"/>
<circle cx="859.7" cy="368.3" r="6.3" fill="url(#gr)"/>
<circle cx="880.0" cy="351.6" r="6.3" fill="url(#gr)"/>
<circle cx="905.5" cy="335.5" r="6.3" fill="url(#gr)"/>
<circle cx="934.7" cy="322.2" r="6.3" fill="url(#gr)"/>
<circle cx="966.4" cy="312.0" r="6.3" fill="url(#gr)"/>
<circle cx="1001.7" cy="305.4" r="6.3" fill="url(#gr)"/>
<circle cx="1035.9" cy="303.8" r="6.3" fill="url(#gr)"/>
<circle cx="1068.7" cy="306.0" r="6.3" fill="url(#gr)"/>
<circle cx="1100.4" cy="310.9" r="6.3" fill="url(#gr)"/>
<circle cx="1129.3" cy="318.2" r="6.3" fill="url(#gr)"/>
<circle cx="1155.0" cy="325.6" r="6.3" fill="url(#gr)"/>
<circle cx="1178.0" cy="332.4" r="6.3" fill="url(#gr)"/>
<circle cx="1198.5" cy="338.7" r="6.3" fill="url(#gr)"/>
<circle cx="128.0" cy="1167.0" r="6.3" fill="url(#gb)"/>
<circle cx="131.0" cy="1166.0" r="6.3" fill="url(#gb)"/>
<circle cx="132.0" cy="1163.0" r="6.3" fill="url(#gb)"/>
<circle cx="133.0" cy="1160.0" r="6.3" fill="url(#gb)"/>
<circle cx="133.8" cy="1157.0" r="6.3" fill="url(#gb)"/>
<circle cx="134.5" cy="1154.0" r="6.3" fill="url(#gb)"/>
<circle cx="135.2" cy="1151.0" r="6.3" fill="url(#gb)"/>
<circle cx="136.0" cy="1148.0" r="6.3" fill="url(#gb)"/>
<circle cx="136.8" cy="1144.8" r="6.3" fill="url(#gb)"/>
<circle cx="137.5" cy="1141.5" r="6.3" fill="url(#gb)"/>
<circle cx="138.2" cy="1138.2" r="6.3" fill="url(#gb)"/>
<circle cx="139.0" cy="1135.0" r="6.3" fill="url(#gb)"/>
<circle cx="139.9" cy="1131.8" r="6.3" fill="url(#gb)"/>
<circle cx="140.9" cy="1128.5" r="6.3" fill="url(#gb)"/>
<circle cx="141.9" cy="1125.2" r="6.3" fill="url(#gb)"/>
<circle cx="142.8" cy="1122.0" r="6.3" fill="url(#gb)"/>
<circle cx="143.9" cy="1119.2" r="6.3" fill="url(#gb)"/>
<circle cx="145.0" cy="1116.3" r="6.3" fill="url(#gb)"/>
<circle cx="146.1" cy="1113.5" r="6.3" fill="url(#gb)"/>
<circle cx="147.2" cy="1110.6" r="6.3" fill="url(#gb)"/>
<circle cx="148.3" cy="1107.8" r="6.3" fill="url(#gb)"/>
<circle cx="155.2" cy="1095.6" r="6.3" fill="url(#gb)"/>
<circle cx="162.8" cy="1082.7" r="6.3" fill="url(#gb)"/>
<circle cx="172.6" cy="1068.7" r="6.3" fill="url(#gb)"/>
<circle cx="185.9" cy="1053.9" r="6.3" fill="url(#gb)"/>
<circle cx="202.0" cy="1038.3" r="6.3" fill="url(#gb)"/>
<circle cx="221.6" cy="1024.8" r="6.3" fill="url(#gb)"/>
<circle cx="243.8" cy="1012.7" r="6.3" fill="url(#gb)"/>
<circle cx="269.0" cy="1004.0" r="6.3" fill="url(#gb)"/>
<circle cx="295.0" cy="998.9" r="6.3" fill="url(#gb)"/>
<circle cx="321.7" cy="997.3" r="6.3" fill="url(#gb)"/>
<circle cx="346.6" cy="999.6" r="6.3" fill="url(#gb)"/>
<circle cx="370.4" cy="1003.9" r="6.3" fill="url(#gb)"/>
<circle cx="392.4" cy="1010.7" r="6.3" fill="url(#gb)"/>
<circle cx="412.3" cy="1017.5" r="6.3" fill="url(#gb)"/>
<circle cx="430.5" cy="1024.5" r="6.3" fill="url(#gb)"/>
<circle cx="446.8" cy="1030.6" r="6.3" fill="url(#gb)"/>
<circle cx="461.5" cy="1036.3" r="6.3" fill="url(#gb)"/>
<circle cx="475.8" cy="1040.8" r="6.3" fill="url(#gb)"/>
<circle cx="488.7" cy="1043.1" r="6.3" fill="url(#gb)"/>
<circle cx="501.1" cy="1044.2" r="6.3" fill="url(#gb)"/>
<circle cx="513.6" cy="1043.8" r="6.3" fill="url(#gb)"/>
<circle cx="526.1" cy="1042.6" r="6.3" fill="url(#gb)"/>
<circle cx="540.3" cy="1039.7" r="6.3" fill="url(#gb)"/>
<circle cx="554.6" cy="1035.2" r="6.3" fill="url(#gb)"/>
<circle cx="126.5" cy="1165.2" r="6.3" fill="url(#gr)"/>
<circle cx="128.2" cy="1165.1" r="6.3" fill="url(#gr)"/>
<circle cx="130.0" cy="1165.0" r="6.3" fill="url(#gr)"/>
<circle cx="131.0" cy="1162.5" r="6.3" fill="url(#gr)"/>
<circle cx="132.0" cy="1160.0" r="6.3" fill="url(#gr)"/>
<circle cx="132.5" cy="1157.0" r="6.3" fill="url(#gr)"/>
<circle cx="133.0" cy="1154.0" r="6.3" fill="url(#gr)"/>
<circle cx="133.8" cy="1150.8" r="6.3" fill="url(#gr)"/>
<circle cx="134.5" cy="1147.7" r="6.3" fill="url(#gr)"/>
<circle cx="135.4" cy="1144.6" r="6.3" fill="url(#gr)"/>
<circle cx="136.4" cy="1141.6" r="6.3" fill="url(#gr)"/>
<circle cx="137.3" cy="1138.5" r="6.3" fill="url(#gr)"/>
<circle cx="138.0" cy="1136.2" r="6.3" fill="url(#gr)"/>
<circle cx="138.6" cy="1133.8" r="6.3" fill="url(#gr)"/>
<circle cx="139.3" cy="1131.5" r="6.3" fill="url(#gr)"/>
<circle cx="140.9" cy="1123.9" r="6.3" fill="url(#gr)"/>
<circle cx="145.2" cy="1114.7" r="6.3" fill="url(#gr)"/>
<circle cx="149.1" cy="1104.7" r="6.3" fill="url(#gr)"/>
<circle cx="154.3" cy="1092.7" r="6.3" fill="url(#gr)"/>
<circle cx="162.2" cy="1079.5" r="6.3" fill="url(#gr)"/>
<circle cx="172.6" cy="1063.0" r="6.3" fill="url(#gr)"/>
<circle cx="185.9" cy="1045.3" r="6.3" fill="url(#gr)"/>
<circle cx="201.7" cy="1028.2" r="6.3" fill="url(#gr)"/>
<circle cx="221.4" cy="1011.7" r="6.3" fill="url(#gr)"/>
<circle cx="244.7" cy="996.5" r="6.3" fill="url(#gr)"/>
<circle cx="270.9" cy="983.3" r="6.3" fill="url(#gr)"/>
<circle cx="300.5" cy="973.2" r="6.3" fill="url(#gr)"/>
<circle cx="330.8" cy="967.2" r="6.3" fill="url(#gr)"/>
<circle cx="361.4" cy="965.4" r="6.3" fill="url(#gr)"/>
<circle cx="392.0" cy="967.6" r="6.3" fill="url(#gr)"/>
<circle cx="420.7" cy="972.8" r="6.3" fill="url(#gr)"/>
<circle cx="447.9" cy="979.0" r="6.3" fill="url(#gr)"/>
<circle cx="472.4" cy="986.9" r="6.3" fill="url(#gr)"/>
<circle cx="495.5" cy="994.4" r="6.3" fill="url(#gr)"/>
<circle cx="515.9" cy="1003.0" r="6.3" fill="url(#gr)"/>
<circle cx="535.8" cy="1010.2" r="6.3" fill="url(#gr)"/>
<circle cx="556.2" cy="1015.2" r="6.3" fill="url(#gr)"/>
<circle cx="827.0" cy="1138.0" r="6.3" fill="url(#gb)"/>
<circle cx="829.0" cy="1136.3" r="6.3" fill="url(#gb)"/>
<circle cx="831.0" cy="1134.7" r="6.3" fill="url(#gb)"/>
<circle cx="833.0" cy="1133.0" r="6.3" fill="url(#gb)"/>
<circle cx="835.0" cy="1131.3" r="6.3" fill="url(#gb)"/>
<circle cx="837.0" cy="1129.7" r="6.3" fill="url(#gb)"/>
<circle cx="839.0" cy="1128.0" r="6.3" fill="url(#gb)"/>
<circle cx="841.1" cy="1126.7" r="6.3" fill="url(#gb)"/>
<circle cx="843.2" cy="1125.4" r="6.3" fill="url(#gb)"/>
<circle cx="845.3" cy="1124.1" r="6.3" fill="url(#gb)"/>
<circle cx="847.4" cy="1122.8" r="6.3" fill="url(#gb)"/>
<circle cx="849.5" cy="1121.5" r="6.3" fill="url(#gb)"/>
<circle cx="852.0" cy="1120.5" r="6.3" fill="url(#gb)"/>
<circle cx="854.5" cy="1119.5" r="6.3" fill="url(#gb)"/>
<circle cx="857.0" cy="1118.5" r="6.3" fill="url(#gb)"/>
<circle cx="859.5" cy="1117.5" r="6.3" fill="url(#gb)"/>
<circle cx="862.1" cy="1116.4" r="6.3" fill="url(#gb)"/>
<circle cx="864.8" cy="1115.2" r="6.3" fill="url(#gb)"/>
<circle cx="867.4" cy="1114.1" r="6.3" fill="url(#gb)"/>
<circle cx="870.0" cy="1113.0" r="6.3" fill="url(#gb)"/>
<circle cx="872.5" cy="1112.4" r="6.3" fill="url(#gb)"/>
<circle cx="875.0" cy="1111.8" r="6.3" fill="url(#gb)"/>
<circle cx="877.5" cy="1111.1" r="6.3" fill="url(#gb)"/>
<circle cx="880.0" cy="1110.5" r="6.3" fill="url(#gb)"/>
<circle cx="882.9" cy="1110.4" r="6.3" fill="url(#gb)"/>
<circle cx="885.9" cy="1110.2" r="6.3" fill="url(#gb)"/>
<circle cx="888.8" cy="1110.1" r="6.3" fill="url(#gb)"/>
<circle cx="891.7" cy="1110.0" r="6.3" fill="url(#gb)"/>
<circle cx="894.1" cy="1110.4" r="6.3" fill="url(#gb)"/>
<circle cx="896.5" cy="1110.8" r="6.3" fill="url(#gb)"/>
<circle cx="898.8" cy="1111.2" r="6.3" fill="url(#gb)"/>
<circle cx="901.2" cy="1111.6" r="6.3" fill="url(#gb)"/>
<circle cx="903.6" cy="1112.0" r="6.3" fill="url(#gb)"/>
<circle cx="905.7" cy="1113.0" r="6.3" fill="url(#gb)"/>
<circle cx="907.8" cy="1114.0" r="6.3" fill="url(#gb)"/>
<circle cx="909.9" cy="1115.0" r="6.3" fill="url(#gb)"/>
<circle cx="912.0" cy="1116.0" r="6.3" fill="url(#gb)"/>
<circle cx="914.0" cy="1117.7" r="6.3" fill="url(#gb)"/>
<circle cx="916.0" cy="1119.4" r="6.3" fill="url(#gb)"/>
<circle cx="917.9" cy="1121.1" r="6.3" fill="url(#gb)"/>
<circle cx="919.9" cy="1122.8" r="6.3" fill="url(#gb)"/>
<circle cx="922.5" cy="1123.8" r="6.3" fill="url(#gb)"/>
<circle cx="925.2" cy="1124.8" r="6.3" fill="url(#gb)"/>
<circle cx="927.8" cy="1125.8" r="6.3" fill="url(#gb)"/>
<circle cx="930.4" cy="1125.5" r="6.3" fill="url(#gb)"/>
<circle cx="933.1" cy="1125.3" r="6.3" fill="url(#gb)"/>
<circle cx="935.7" cy="1125.0" r="6.3" fill="url(#gb)"/>
<circle cx="937.8" cy="1123.3" r="6.3" fill="url(#gb)"/>
<circle cx="939.9" cy="1121.7" r="6.3" fill="url(#gb)"/>
<circle cx="942.0" cy="1120.0" r="6.3" fill="url(#gb)"/>
<circle cx="942.7" cy="1117.5" r="6.3" fill="url(#gb)"/>
<circle cx="943.5" cy="1115.1" r="6.3" fill="url(#gb)"/>
<circle cx="944.2" cy="1112.7" r="6.3" fill="url(#gb)"/>
<circle cx="944.9" cy="1110.2" r="6.3" fill="url(#gb)"/>
<circle cx="945.4" cy="1108.2" r="6.3" fill="url(#gb)"/>
<circle cx="946.0" cy="1106.3" r="6.3" fill="url(#gb)"/>
<circle cx="946.5" cy="1104.3" r="6.3" fill="url(#gb)"/>
<circle cx="948.1" cy="1096.4" r="6.3" fill="url(#gb)"/>
<circle cx="950.1" cy="1088.5" r="6.3" fill="url(#gb)"/>
<circle cx="953.0" cy="1077.7" r="6.3" fill="url(#gb)"/>
<circle cx="955.2" cy="1063.8" r="6.3" fill="url(#gb)"/>
<circle cx="956.9" cy="1048.3" r="6.3" fill="url(#gb)"/>
<circle cx="960.5" cy="1029.4" r="6.3" fill="url(#gb)"/>
<circle cx="965.5" cy="1005.4" r="6.3" fill="url(#gb)"/>
<circle cx="970.6" cy="974.3" r="6.3" fill="url(#gb)"/>
<circle cx="828.0" cy="1137.0" r="6.3" fill="url(#gr)"/>
<circle cx="829.7" cy="1135.5" r="6.3" fill="url(#gr)"/>
<circle cx="831.3" cy="1134.0" r="6.3" fill="url(#gr)"/>
<circle cx="833.0" cy="1132.5" r="6.3" fill="url(#gr)"/>
<circle cx="834.7" cy="1131.0" r="6.3" fill="url(#gr)"/>
<circle cx="836.4" cy="1129.5" r="6.3" fill="url(#gr)"/>
<circle cx="838.1" cy="1128.1" r="6.3" fill="url(#gr)"/>
<circle cx="839.8" cy="1126.6" r="6.3" fill="url(#gr)"/>
<circle cx="842.2" cy="1125.3" r="6.3" fill="url(#gr)"/>
<circle cx="844.6" cy="1124.0" r="6.3" fill="url(#gr)"/>
<circle cx="847.1" cy="1122.8" r="6.3" fill="url(#gr)"/>
<circle cx="849.5" cy="1121.5" r="6.3" fill="url(#gr)"/>
<circle cx="852.0" cy="1120.5" r="6.3" fill="url(#gr)"/>
<circle cx="854.5" cy="1119.4" r="6.3" fill="url(#gr)"/>
<circle cx="857.0" cy="1118.3" r="6.3" fill="url(#gr)"/>
<circle cx="859.5" cy="1117.3" r="6.3" fill="url(#gr)"/>
<circle cx="862.1" cy="1116.1" r="6.3" fill="url(#gr)"/>
<circle cx="864.8" cy="1114.9" r="6.3" fill="url(#gr)"/>
<circle cx="867.4" cy="1113.7" r="6.3" fill="url(#gr)"/>
<circle cx="870.0" cy="1112.5" r="6.3" fill="url(#gr)"/>
<circle cx="872.5" cy="1111.9" r="6.3" fill="url(#gr)"/>
<circle cx="875.0" cy="1111.2" r="6.3" fill="url(#gr)"/>
<circle cx="877.4" cy="1110.6" r="6.3" fill="url(#gr)"/>
<circle cx="879.9" cy="1110.0" r="6.3" fill="url(#gr)"/>
<circle cx="882.9" cy="1109.8" r="6.3" fill="url(#gr)"/>
<circle cx="885.8" cy="1109.7" r="6.3" fill="url(#gr)"/>
<circle cx="888.8" cy="1109.6" r="6.3" fill="url(#gr)"/>
<circle cx="891.7" cy="1109.4" r="6.3" fill="url(#gr)"/>
<circle cx="894.1" cy="1109.8" r="6.3" fill="url(#gr)"/>
<circle cx="896.5" cy="1110.2" r="6.3" fill="url(#gr)"/>
<circle cx="898.8" cy="1110.5" r="6.3" fill="url(#gr)"/>
<circle cx="901.2" cy="1110.9" r="6.3" fill="url(#gr)"/>
<circle cx="903.6" cy="1111.3" r="6.3" fill="url(#gr)"/>
<circle cx="906.4" cy="1112.3" r="6.3" fill="url(#gr)"/>
<circle cx="909.2" cy="1113.3" r="6.3" fill="url(#gr)"/>
<circle cx="912.0" cy="1114.3" r="6.3" fill="url(#gr)"/>
<circle cx="914.0" cy="1115.4" r="6.3" fill="url(#gr)"/>
<circle cx="916.0" cy="1116.4" r="6.3" fill="url(#gr)"/>
<circle cx="918.0" cy="1117.5" r="6.3" fill="url(#gr)"/>
<circle cx="920.0" cy="1118.3" r="6.3" fill="url(#gr)"/>
<circle cx="921.9" cy="1119.2" r="6.3" fill="url(#gr)"/>
<circle cx="923.9" cy="1120.0" r="6.3" fill="url(#gr)"/>
<circle cx="926.7" cy="1120.5" r="6.3" fill="url(#gr)"/>
<circle cx="929.5" cy="1121.0" r="6.3" fill="url(#gr)"/>
<circle cx="931.6" cy="1120.8" r="6.3" fill="url(#gr)"/>
<circle cx="933.6" cy="1120.7" r="6.3" fill="url(#gr)"/>
<circle cx="935.7" cy="1120.5" r="6.3" fill="url(#gr)"/>
<circle cx="938.6" cy="1119.9" r="6.3" fill="url(#gr)"/>
<circle cx="941.5" cy="1119.3" r="6.3" fill="url(#gr)"/>
<circle cx="943.5" cy="1118.5" r="6.3" fill="url(#gr)"/>
<circle cx="945.6" cy="1117.8" r="6.3" fill="url(#gr)"/>
<circle cx="947.6" cy="1117.0" r="6.3" fill="url(#gr)"/>
<circle cx="949.6" cy="1116.0" r="6.3" fill="url(#gr)"/>
<circle cx="951.5" cy="1115.0" r="6.3" fill="url(#gr)"/>
<circle cx="953.5" cy="1114.0" r="6.3" fill="url(#gr)"/>
<circle cx="955.0" cy="1112.7" r="6.3" fill="url(#gr)"/>
<circle cx="956.5" cy="1111.3" r="6.3" fill="url(#gr)"/>
<circle cx="958.0" cy="1110.0" r="6.3" fill="url(#gr)"/>
<circle cx="959.2" cy="1108.3" r="6.3" fill="url(#gr)"/>
<circle cx="960.3" cy="1106.7" r="6.3" fill="url(#gr)"/>
<circle cx="961.5" cy="1105.0" r="6.3" fill="url(#gr)"/>
<circle cx="962.4" cy="1102.8" r="6.3" fill="url(#gr)"/>
<circle cx="963.3" cy="1100.5" r="6.3" fill="url(#gr)"/>
<circle cx="964.4" cy="1097.8" r="6.3" fill="url(#gr)"/>
<circle cx="965.5" cy="1095.0" r="6.3" fill="url(#gr)"/>
<circle cx="968.3" cy="1087.9" r="6.3" fill="url(#gr)"/>
<circle cx="971.0" cy="1080.1" r="6.3" fill="url(#gr)"/>
<circle cx="973.8" cy="1067.7" r="6.3" fill="url(#gr)"/>
<circle cx="977.1" cy="1053.3" r="6.3" fill="url(#gr)"/>
<circle cx="978.7" cy="1035.7" r="6.3" fill="url(#gr)"/>
<circle cx="982.2" cy="1015.5" r="6.3" fill="url(#gr)"/>
<circle cx="987.0" cy="988.2" r="6.3" fill="url(#gr)"/>
<circle cx="991.1" cy="952.8" r="6.3" fill="url(#gr)"/>
<circle cx="993.9" cy="910.5" r="6.3" fill="url(#gr)"/>
<circle cx="1000.2" cy="857.4" r="6.3" fill="url(#gr)"/>
<circle cx="1007.3" cy="790.4" r="6.3" fill="url(#gr)"/>
</svg></body></html>
